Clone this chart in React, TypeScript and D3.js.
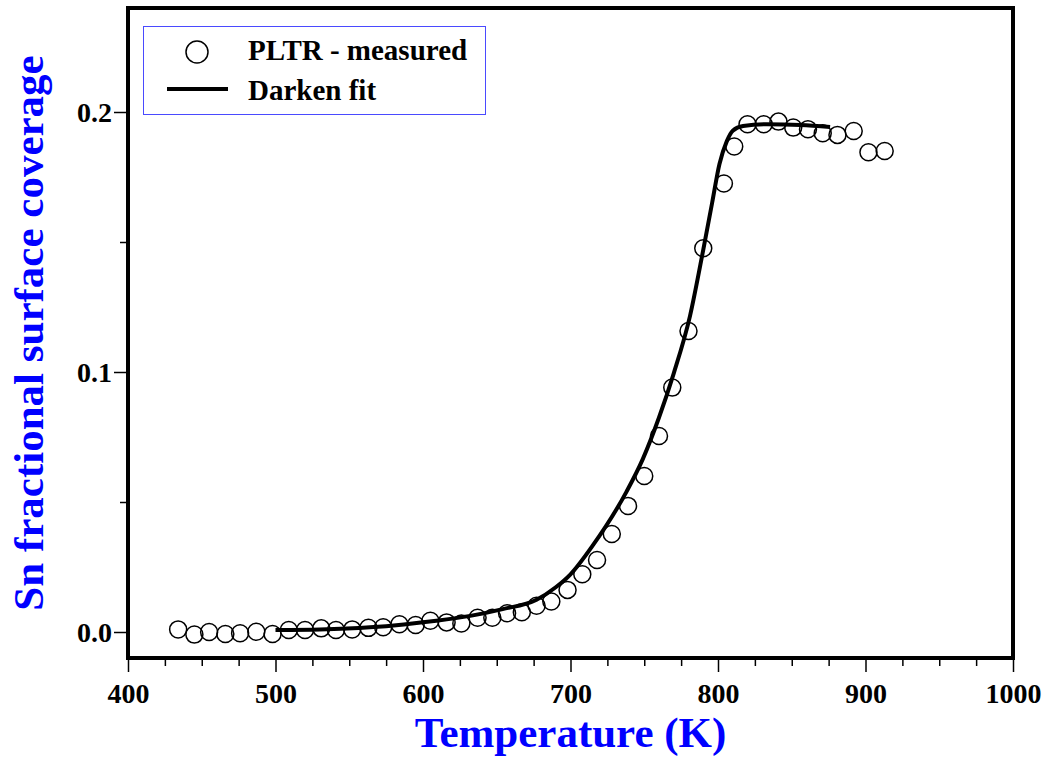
import { useEffect, useRef } from "react";
import * as d3 from "d3";

const W = 1052, H = 760;
const PLOT = { left: 128, right: 1013, top: 8, bottom: 658 };

const FONT = "'Liberation Serif', 'Times New Roman', serif";
const BLUE = "#0000ff";

// measured PLTR points (temperature in K, coverage)
const MEAS_T = [434, 445, 455, 466, 476, 487, 498, 509, 520, 531, 541, 552, 563, 573, 584, 595, 605, 616, 626, 637, 647, 657, 667, 677, 687, 698, 708, 718, 728, 739, 750, 760, 769, 780, 790, 804, 811, 820, 831, 841, 851, 861, 871, 881, 892, 902, 913];
const MEAS_Y = [0.001, -0.001, 0.0, -0.0008, -0.0005, 0.0001, -0.0008, 0.0008, 0.0008, 0.0014, 0.0008, 0.001, 0.0016, 0.0018, 0.003, 0.0027, 0.0043, 0.0037, 0.0033, 0.0055, 0.0055, 0.0072, 0.0076, 0.0101, 0.0117, 0.0162, 0.0222, 0.0277, 0.0377, 0.0485, 0.06, 0.0754, 0.094, 0.1158, 0.1476, 0.1725, 0.1867, 0.1953, 0.1953, 0.1963, 0.194, 0.1934, 0.1918, 0.1912, 0.1927, 0.1845, 0.185];

// Darken fit curve
const FIT_T = [500, 530, 564, 587, 609, 632, 654, 677, 690, 700, 715, 738, 749, 760, 770, 781, 790, 796, 801, 806, 810, 817, 833, 856, 876];
const FIT_Y = [0.0008, 0.001, 0.0018, 0.0029, 0.0043, 0.0062, 0.0088, 0.0124, 0.0172, 0.0222, 0.0332, 0.0540, 0.0665, 0.0825, 0.0995, 0.1215, 0.1470, 0.1650, 0.1800, 0.1888, 0.1928, 0.1946, 0.1953, 0.195, 0.1942];

const X_TICKS = [400, 500, 600, 700, 800, 900, 1000];
const X_MINOR = d3.range(400, 1001, 25).filter(v => v % 100 !== 0);
const Y_TICKS = [0, 0.1, 0.2];
const Y_MINOR = [0.05, 0.15];

export default function App() {
  const svgRef = useRef(null);

  useEffect(() => {
    const svg = d3.select(svgRef.current);
    svg.selectAll("*").remove();

    const x = d3.scaleLinear().domain([400, 1000]).range([PLOT.left, PLOT.right]);
    const y = d3.scaleLinear().domain([-0.01, 0.24]).range([PLOT.bottom, PLOT.top]);

    svg.append("rect").attr("width", W).attr("height", H).attr("fill", "#fff");

    // ── ticks ──
    const xAx = svg.append("g").attr("transform", `translate(0,${PLOT.bottom})`);
    xAx.call(d3.axisBottom(x).tickValues(X_MINOR).tickSize(8).tickFormat(() => ""))
      .call(a => a.select(".domain").remove())
      .call(a => a.selectAll(".tick line").attr("stroke", "#000").attr("stroke-width", 1.5));
    xAx.append("g")
      .call(d3.axisBottom(x).tickValues(X_TICKS).tickSize(14).tickFormat(d3.format("d")))
      .call(a => a.select(".domain").remove())
      .call(a => a.selectAll(".tick line").attr("stroke", "#000").attr("stroke-width", 1.5))
      .call(a => a.selectAll("text").attr("fill", "#000").attr("font-size", 28).attr("font-weight", "bold")
        .attr("font-family", FONT).attr("y", 45).attr("dy", 0));

    const yAx = svg.append("g").attr("transform", `translate(${PLOT.left},0)`);
    yAx.call(d3.axisLeft(y).tickValues(Y_MINOR).tickSize(8).tickFormat(() => ""))
      .call(a => a.select(".domain").remove())
      .call(a => a.selectAll(".tick line").attr("stroke", "#000").attr("stroke-width", 1.5));
    yAx.append("g")
      .call(d3.axisLeft(y).tickValues(Y_TICKS).tickSize(14).tickFormat(d3.format(".1f")))
      .call(a => a.select(".domain").remove())
      .call(a => a.selectAll(".tick line").attr("stroke", "#000").attr("stroke-width", 1.5))
      .call(a => a.selectAll("text").attr("fill", "#000").attr("font-size", 28).attr("font-weight", "bold")
        .attr("font-family", FONT).attr("x", -16).attr("dy", "0.35em"));

    // ── frame ──
    svg.append("rect")
      .attr("x", PLOT.left).attr("y", PLOT.top)
      .attr("width", PLOT.right - PLOT.left).attr("height", PLOT.bottom - PLOT.top)
      .attr("fill", "none").attr("stroke", "#000").attr("stroke-width", 4);

    // ── fit line ──
    const fit = FIT_T.map((t, i) => [t, FIT_Y[i]]);
    svg.append("path").datum(fit)
      .attr("fill", "none").attr("stroke", "#000").attr("stroke-width", 4)
      .attr("stroke-linejoin", "round")
      .attr("d", d3.line().x(d => x(d[0])).y(d => y(d[1])).curve(d3.curveMonotoneX));

    // ── measured points ──
    svg.append("g").selectAll("circle")
      .data(MEAS_T.map((t, i) => [t, MEAS_Y[i]]))
      .join("circle")
      .attr("cx", d => x(d[0])).attr("cy", d => y(d[1])).attr("r", 8.5)
      .attr("fill", "none").attr("stroke", "#000").attr("stroke-width", 1.5);

    // ── legend ──
    const lg = svg.append("g");
    lg.append("rect").attr("x", 143.5).attr("y", 26.5).attr("width", 342).attr("height", 88)
      .attr("fill", "#fff").attr("stroke", "#4a4aff").attr("stroke-width", 1);
    lg.append("circle").attr("cx", 197).attr("cy", 52).attr("r", 11)
      .attr("fill", "none").attr("stroke", "#000").attr("stroke-width", 1.5);
    lg.append("line").attr("x1", 167).attr("x2", 228).attr("y1", 89).attr("y2", 89)
      .attr("stroke", "#000").attr("stroke-width", 4);
    const lgText = [["PLTR - measured", 60], ["Darken fit", 100]];
    lg.selectAll("text.lg").data(lgText).join("text")
      .attr("x", 248).attr("y", d => d[1])
      .attr("font-family", FONT).attr("font-size", 29).attr("font-weight", "bold").attr("fill", "#000")
      .text(d => d[0]);

    // ── axis titles ──
    svg.append("text")
      .attr("x", (PLOT.left + PLOT.right) / 2).attr("y", 747)
      .attr("text-anchor", "middle").attr("font-family", FONT).attr("font-size", 43)
      .attr("font-weight", "bold").attr("fill", BLUE)
      .text("Temperature (K)");

    svg.append("text")
      .attr("transform", `translate(43,${(PLOT.top + PLOT.bottom) / 2}) rotate(-90)`)
      .attr("text-anchor", "middle").attr("font-family", FONT).attr("font-size", 43)
      .attr("font-weight", "bold").attr("fill", BLUE)
      .text("Sn fractional surface coverage");
  }, []);

  return (
    <div style={{ position: "absolute", left: 0, top: 0, width: W, height: H, background: "#fff" }}>
      <svg ref={svgRef} width={W} height={H} style={{ display: "block" }} />
    </div>
  );
}
